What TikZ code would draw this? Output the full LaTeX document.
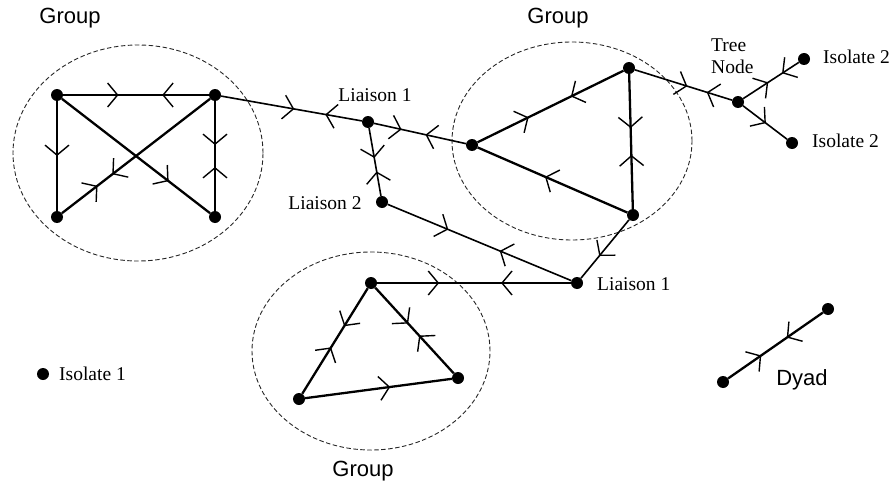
\documentclass[tikz,border=0pt]{standalone}
\usepackage{fontspec}
\setmainfont{Liberation Serif}
\newfontfamily\grpfont{Liberation Sans}
\usepackage{tikz}
\usetikzlibrary{arrows.meta,decorations.markings}

\tikzset{
  actor/.style={circle, fill=black, inner sep=0pt, minimum size=12pt},
  tie/.style={line width=2.3pt},
  link/.style={line width=1.6pt},
  chev/.tip={Straight Barb[length=10pt, width=24pt, line width=1.4pt]},
  fw/.style={postaction={decorate, decoration={markings,
      mark=at position #1 with {\arrow{chev}}}}},
  bw/.style={postaction={decorate, decoration={markings,
      mark=at position #1 with {\arrowreversed{chev}}}}},
  groupring/.style={draw=black!85, line width=0.9pt, dash pattern=on 4.5pt off 2.5pt},
  grouptxt/.style={font=\grpfont\fontsize{22}{25}\selectfont},
  roletxt/.style={font=\fontsize{19.5}{22}\selectfont, inner sep=1pt}
}

\begin{document}
\begin{tikzpicture}[x=1pt, y=-1pt]

\useasboundingbox (0,0) rectangle (894,487);

% === Group rings ===
\draw[groupring] (138,153) ellipse [x radius=125pt, y radius=108pt];
\draw[groupring] (572,141) ellipse [x radius=120pt, y radius=99pt];
\draw[groupring] (371,351) ellipse [x radius=119pt, y radius=99pt];

\node[grouptxt] (g1txt) at (70,18) {Group};
\node[grouptxt] (g2txt) at (558,18) {Group};
\node[grouptxt] (g3txt) at (363,471) {Group};

% === Actors ===
% left group
\node[actor] (tl) at (57,95) {};
\node[actor] (tr) at (215,95) {};
\node[actor] (bl) at (57,217) {};
\node[actor] (br) at (215,217) {};
% middle group
\node[actor] (ml) at (472,145) {};
\node[actor] (mt) at (629,68) {};
\node[actor] (mb) at (633,215) {};
% bottom group
\node[actor] (lt) at (371,283) {};
\node[actor] (ll) at (299,399) {};
\node[actor] (lr) at (458,378) {};
% liaisons, tree, isolates, dyad
\node[actor] (liaA) at (368,122) {};
\node[actor] (liaB) at (382,202) {};
\node[actor] (liaC) at (577,283) {};
\node[actor] (tree) at (738,102) {};
\node[actor] (isoA) at (804,59) {};
\node[actor] (isoB) at (792,143) {};
\node[actor] (isoC) at (43,374) {};
\node[actor] (dya) at (723,382) {};
\node[actor] (dyb) at (828,309) {};

% === Labels ===
\node[roletxt] (liaAtxt) at (375,95) {Liaison 1};
\node[roletxt] (liaBtxt) at (325,203) {Liaison 2};
\node[roletxt, anchor=west] (liaCtxt) at (596,284) {Liaison 1};
\node[roletxt, anchor=west, align=left] (treetxt) at (710,56) {Tree\\Node};
\node[roletxt, anchor=west] (isoAtxt) at (822,57) {Isolate 2};
\node[roletxt, anchor=west] (isoBtxt) at (811,141) {Isolate 2};
\node[roletxt, anchor=west] (isoCtxt) at (58,374) {Isolate 1};
\node[grouptxt] (dyadtxt) at (802,380) {Dyad};

% === Ties inside the left group ===
\draw[tie, fw=0.38, bw=0.68] (tl) -- (tr);
\draw[tie, fw=0.50] (tl) -- (bl);
\draw[tie, fw=0.40, bw=0.60] (tr) -- (br);
\draw[tie, fw=0.24, bw=0.34] (bl) -- (tr);
\draw[tie, fw=0.72] (tl) -- (br);

% === Ties inside the middle group ===
\draw[tie, fw=0.35, bw=0.64] (ml) -- (mt);
\draw[tie, fw=0.55] (mb) -- (ml);
\draw[tie, fw=0.40, bw=0.60] (mt) -- (mb);

% === Ties inside the bottom group ===
\draw[tie, fw=0.36, bw=0.56] (lt) -- (ll);
\draw[tie, fw=0.42, bw=0.56] (lt) -- (lr);
\draw[tie, fw=0.58] (ll) -- (lr);

% === Links between groups ===
\draw[link, fw=0.52, bw=0.74] (tr) -- (liaA);
\draw[link, fw=0.30, bw=0.56] (liaA) -- (ml);
\draw[link, fw=0.44, bw=0.64] (liaA) -- (liaB);
\draw[link, fw=0.33, bw=0.61] (liaB) -- (liaC);
\draw[link, fw=0.32, bw=0.64] (lt) -- (liaC);
\draw[link, fw=0.62] (mb) -- (liaC);
\draw[link, fw=0.54, bw=0.74] (mt) -- (tree);
\draw[link, fw=0.45, bw=0.70] (tree) -- (isoA);
\draw[link, fw=0.52] (tree) -- (isoB);
\draw[tie, fw=0.35, bw=0.62] (dya) -- (dyb);

\end{tikzpicture}
\end{document}
